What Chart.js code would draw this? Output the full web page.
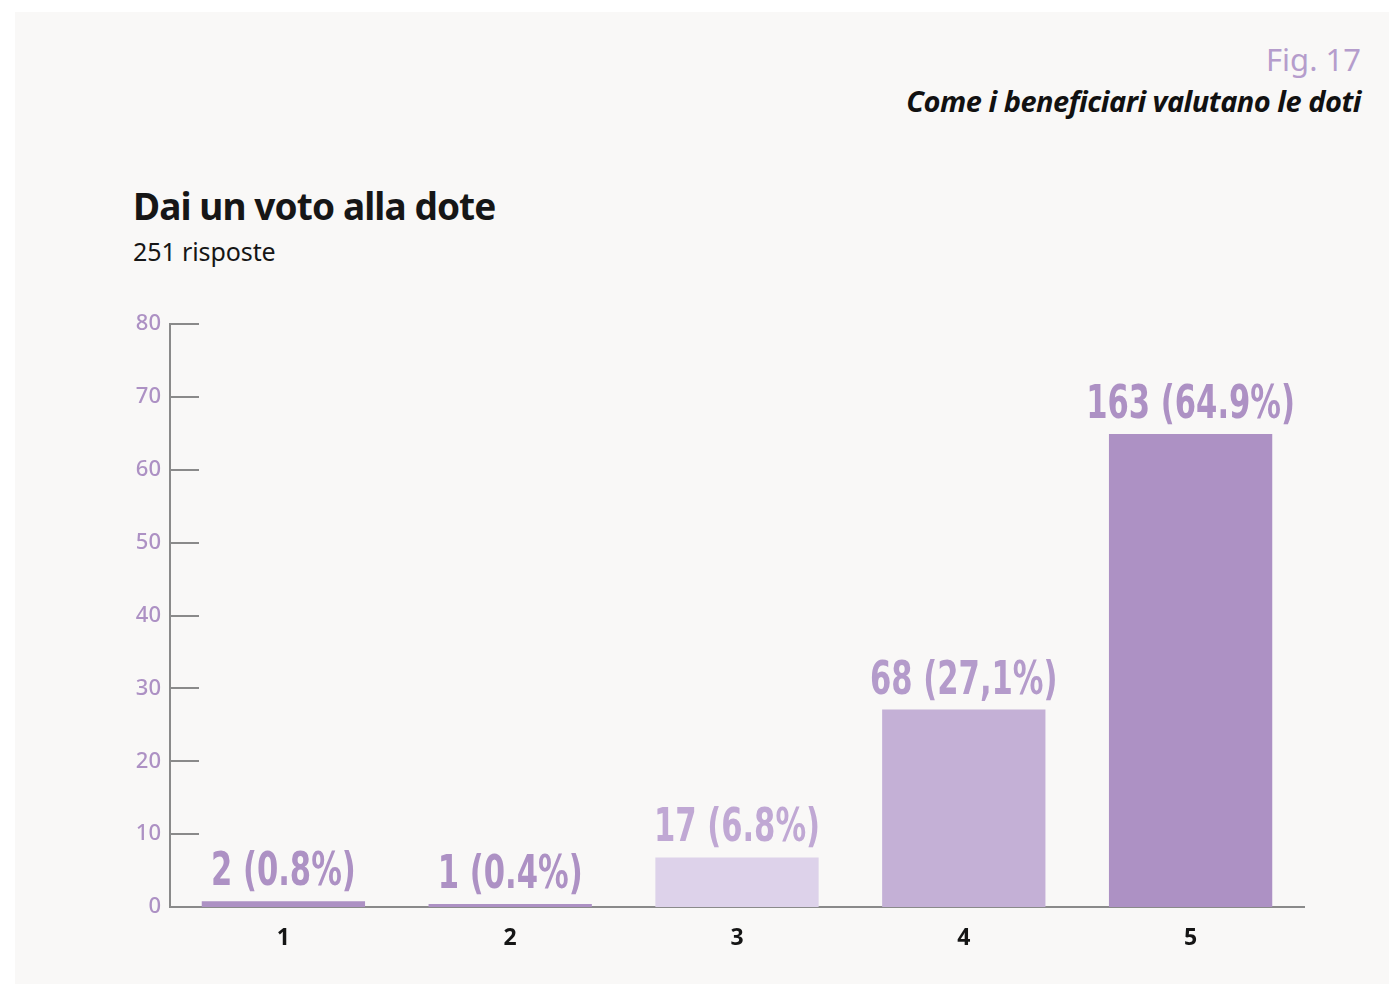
<!DOCTYPE html>
<html>
<head>
<meta charset="utf-8">
<script src="https://cdn.jsdelivr.net/npm/chart.js@4/dist/chart.umd.min.js"></script>
<style>
  html, body { margin: 0; padding: 0; background: #fff; }
  body { width: 1389px; height: 985px; position: relative; overflow: hidden; font-family: 'Noto Sans', sans-serif; }
  .panel { position: absolute; left: 15px; top: 12px; right: 0; bottom: 1px; background: #f9f8f7; }
  .fig { position: absolute; right: 28px; top: 44px; font-size: 31px; color: #b59dcc; line-height: 1; }
  .fig-title { position: absolute; right: 28px; top: 86px; font-size: 29px; font-weight: 700; font-style: italic; color: #111; line-height: 1; letter-spacing: -0.5px; }
  .title { position: absolute; left: 133px; top: 187px; font-size: 37px; font-weight: 700; color: #161616; line-height: 1; letter-spacing: -0.9px; }
  .sub { position: absolute; left: 133px; top: 239px; font-size: 25px; color: #161616; line-height: 1; letter-spacing: -0.1px; }
  .chart-box { position: absolute; left: 0; top: 0; width: 1389px; height: 985px; }
</style>
</head>
<body>
<div class="panel"></div>
<div class="fig">Fig. 17</div>
<div class="fig-title">Come i beneficiari valutano le doti</div>
<div class="title">Dai un voto alla dote</div>
<div class="sub">251 risposte</div>
<div class="chart-box"><canvas id="chart"></canvas></div>
<script>
'use strict';

// ── 데이터 ─────────────────────────────────────────
const categories = ['1', '2', '3', '4', '5'];
const percents   = [0.8, 0.4, 6.8, 27.1, 64.9];
const barLabels  = ['2 (0.8%)', '1 (0.4%)', '17 (6.8%)', '68 (27,1%)', '163 (64.9%)'];
const yTicks     = [0, 10, 20, 30, 40, 50, 60, 70, 80];

const barColors   = ['#ad91c4', '#ad91c4', '#ddd2ea', '#c4b0d6', '#ad91c4'];
const labelColors = ['#ad91c4', '#ad91c4', '#c0a8d4', '#b49bcb', '#ad91c4'];
const AXIS = '#8a8a8a';
const NARROW = 0.74; // 좁은 글꼴 흉내 (가로 압축)

// 막대 위 라벨
const barLabelPlugin = {
  id: 'barLabels',
  afterDatasetsDraw(chart) {
    const { ctx } = chart;
    const meta = chart.getDatasetMeta(0);
    ctx.save();
    ctx.font = "bold 46px 'DejaVu Sans Condensed', 'DejaVu Sans', sans-serif";
    ctx.textAlign = 'center';
    ctx.textBaseline = 'alphabetic';
    meta.data.forEach((bar, i) => {
      ctx.save();
      ctx.translate(bar.x, bar.y - 16);
      ctx.scale(NARROW, 1);
      ctx.fillStyle = labelColors[i];
      ctx.fillText(barLabels[i], 0, 0);
      ctx.restore();
    });
    ctx.restore();
  }
};

// y축 안쪽 눈금
const innerTickPlugin = {
  id: 'innerTicks',
  afterDraw(chart) {
    const { ctx, chartArea } = chart;
    const y = chart.scales.y;
    ctx.save();
    ctx.strokeStyle = AXIS;
    ctx.lineWidth = 2;
    y.ticks.forEach(t => {
      if (t.value === 0) return;
      const py = Math.round(y.getPixelForValue(t.value));
      ctx.beginPath();
      ctx.moveTo(chartArea.left, py);
      ctx.lineTo(chartArea.left + 29, py);
      ctx.stroke();
    });
    ctx.restore();
  }
};

new Chart(document.getElementById('chart'), {
  type: 'bar',
  data: {
    labels: categories,
    datasets: [{
      data: percents,
      backgroundColor: barColors,
      borderWidth: 0,
      categoryPercentage: 1,
      barPercentage: 0.72,
    }]
  },
  options: {
    responsive: true,
    maintainAspectRatio: false,
    animation: false,
    layout: { padding: { top: 324, right: 85, left: 0, bottom: 0 } },
    plugins: { legend: { display: false }, tooltip: { enabled: false } },
    scales: {
      x: {
        afterFit: s => { s.height = 78; },
        grid: { display: false, drawTicks: false },
        border: { display: true, color: AXIS, width: 2 },
        ticks: {
          padding: 18,
          color: '#151515',
          font: { family: "'Noto Sans', sans-serif", size: 23, weight: 'bold' }
        }
      },
      y: {
        min: 0,
        max: 80,
        afterFit: s => { s.width = 170; },
        afterBuildTicks: s => { s.ticks = yTicks.map(v => ({ value: v })); },
        grid: { display: false, drawTicks: false },
        border: { display: true, color: AXIS, width: 2 },
        ticks: {
          padding: 9,
          color: '#ad91c4',
          font: { family: "'Noto Sans', sans-serif", size: 22, weight: '500' }
        }
      }
    }
  },
  plugins: [barLabelPlugin, innerTickPlugin]
});
</script>
</body>
</html>
